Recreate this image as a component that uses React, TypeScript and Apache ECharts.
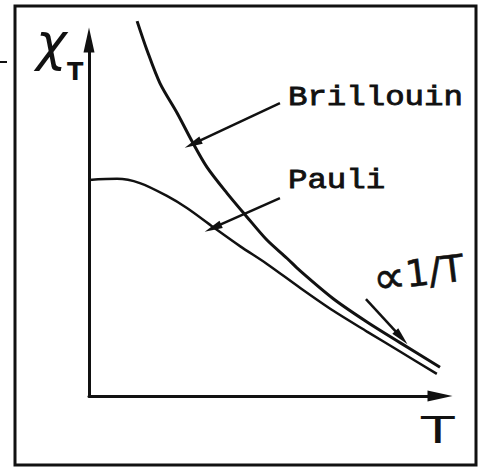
import React, { useEffect, useRef } from "react";
import * as echarts from "echarts";

// Brillouin susceptibility curve (T, chi), steep ~1/T decay
const brillouinT = [1.37, 1.65, 2.02, 2.51, 2.96, 3.36, 3.93, 4.5, 5.07, 5.64, 6.01, 6.95, 7.92, 8.86, 10.0];
const brillouinChi = [10.53, 9.72, 8.79, 7.95, 7.11, 6.43, 5.7, 5.03, 4.38, 3.87, 3.52, 2.74, 2.08, 1.5, 0.81];

// Pauli susceptibility curve: flat at low T, then falling
const pauliT = [0, 0.8, 1.45, 2.22, 2.79, 3.53, 4.3, 5.07, 6.01, 6.95, 7.92, 8.86, 9.91];
const pauliChi = [6.07, 6.1, 5.98, 5.62, 5.28, 4.75, 4.21, 3.71, 3.04, 2.4, 1.81, 1.25, 0.62];

// Pointer arrows: [fromT, fromChi, toT, toChi]
const brillouinArrow = [5.44, 8.23, 2.96, 7.08];
const pauliArrow = [5.44, 5.56, 3.53, 4.72];
const inverseArrow = [7.89, 2.72, 8.9, 1.64];

const axisMin = 0;
const axisMax = 10;

const INK = "#111";

const pairs = (xs: number[], ys: number[]) => xs.map((x, i) => [x, ys[i]]);
const arrowLine = (a: number[]) => [{ coord: [a[0], a[1]] }, { coord: [a[2], a[3]] }];

export default function App() {
  const ref = useRef<HTMLDivElement>(null);

  useEffect(() => {
    document.body.style.margin = "0";
    if (!ref.current) return;
    const chart = echarts.init(ref.current, undefined, { renderer: "svg" });

    const axisLine = {
      show: true,
      onZero: false,
      symbol: ["none", "triangle"],
      symbolSize: [11, 25],
      lineStyle: { color: INK, width: 3 },
    };

    chart.setOption({
      animation: false,
      backgroundColor: "#fff",
      grid: { left: 89, right: 42, top: 40, bottom: 72 },
      xAxis: {
        type: "value",
        min: axisMin,
        max: axisMax,
        axisLine,
        axisTick: { show: false },
        axisLabel: { show: false },
        splitLine: { show: false },
      },
      yAxis: {
        type: "value",
        min: axisMin,
        max: axisMax,
        axisLine,
        axisTick: { show: false },
        axisLabel: { show: false },
        splitLine: { show: false },
      },
      series: [
        {
          name: "Brillouin",
          type: "line",
          data: pairs(brillouinT, brillouinChi),
          smooth: 0.3,
          clip: false,
          showSymbol: false,
          lineStyle: { color: INK, width: 3 },
          markLine: {
            silent: true,
            symbol: ["none", "triangle"],
            symbolSize: [8, 18],
            label: { show: false },
            lineStyle: { color: INK, width: 2.5, type: "solid" },
            data: [arrowLine(brillouinArrow), arrowLine(pauliArrow), arrowLine(inverseArrow)],
          },
        },
        {
          name: "Pauli",
          type: "line",
          data: pairs(pauliT, pauliChi),
          smooth: 0.3,
          clip: false,
          showSymbol: false,
          lineStyle: { color: INK, width: 2.5 },
        },
      ],
      graphic: [
        {
          type: "rect",
          shape: { x: 15, y: 6, width: 461, height: 459 },
          style: { fill: "none", stroke: INK, lineWidth: 3 },
        },
        {
          type: "rect",
          shape: { x: 0, y: 61, width: 7, height: 2 },
          style: { fill: INK },
        },
        {
          type: "text",
          x: 36,
          y: 16,
          style: { text: "χ", font: "italic 52px 'DejaVu Sans'", fill: INK },
        },
        {
          type: "text",
          x: 67,
          y: 60,
          style: { text: "T", font: "bold 24px 'DejaVu Sans'", fill: INK },
        },
        {
          type: "text",
          x: 421,
          y: 411,
          scaleX: 1.45,
          style: { text: "T", font: "38px 'DejaVu Sans'", fill: INK },
        },
        {
          type: "text",
          x: 288,
          y: 84,
          scaleX: 1.2,
          style: {
            text: "Brillouin",
            font: "27px 'Liberation Mono'",
            fill: INK,
            stroke: INK,
            lineWidth: 0.8,
          },
        },
        {
          type: "text",
          x: 288,
          y: 167,
          scaleX: 1.2,
          style: {
            text: "Pauli",
            font: "27px 'Liberation Mono'",
            fill: INK,
            stroke: INK,
            lineWidth: 0.8,
          },
        },
        {
          type: "text",
          x: 370,
          y: 256,
          rotation: 0.12,
          style: {
            text: "{p|∝}{n|1/T}",
            fill: INK,
            stroke: INK,
            lineWidth: 0.6,
            rich: {
              p: { font: "46px 'DejaVu Sans'", fill: INK, stroke: INK, lineWidth: 0.6 },
              n: { font: "37px 'DejaVu Sans'", fill: INK, stroke: INK, lineWidth: 0.6 },
            },
          },
        },
      ],
    });

    return () => chart.dispose();
  }, []);

  return <div ref={ref} style={{ width: 482, height: 468 }} />;
}
